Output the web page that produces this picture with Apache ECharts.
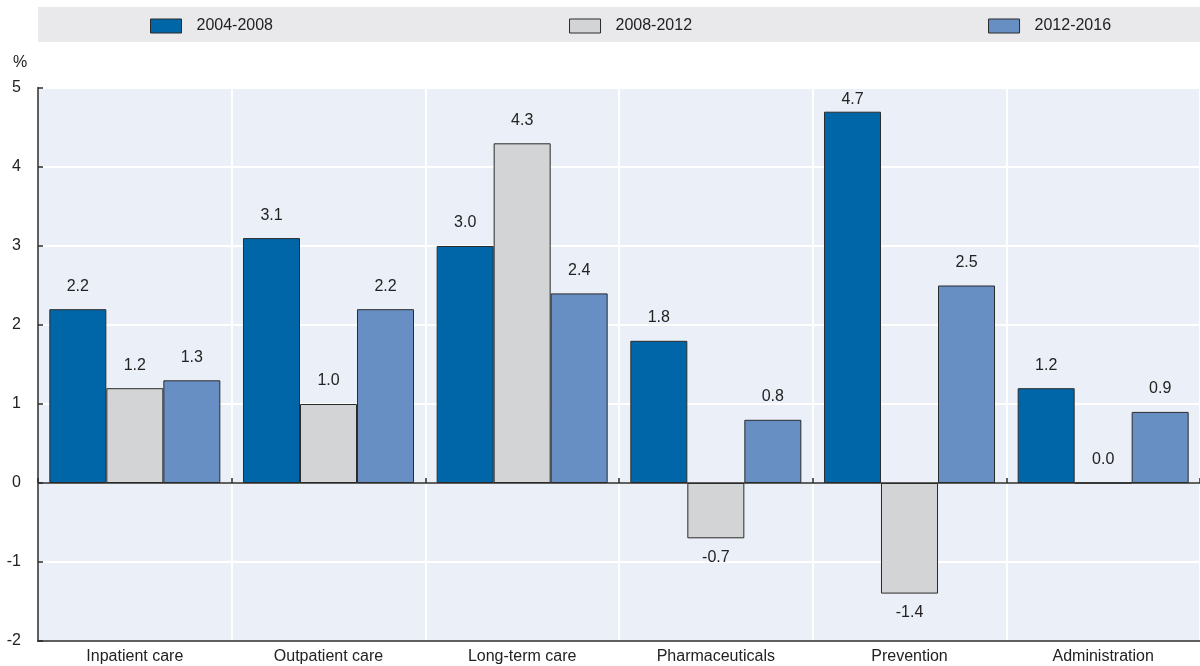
<!DOCTYPE html>
<html>
<head>
<meta charset="utf-8">
<script src="https://cdn.jsdelivr.net/npm/echarts@6/dist/echarts.min.js"></script>
<style>
  html, body { margin: 0; padding: 0; background: #ffffff; }
  #chart { width: 1200px; height: 666px; }
</style>
</head>
<body>
<div id="chart"></div>
<script>
// Average annual growth in health spending by function, per period (%)
const categories = ['Inpatient care', 'Outpatient care', 'Long-term care', 'Pharmaceuticals', 'Prevention', 'Administration'];
const periods = ['2004-2008', '2008-2012', '2012-2016'];
const growth2004_2008 = [2.2, 3.1, 3.0, 1.8, 4.7, 1.2];
const growth2008_2012 = [1.2, 1.0, 4.3, -0.7, -1.4, 0.0];
const growth2012_2016 = [1.3, 2.2, 2.4, 0.8, 2.5, 0.9];
const yTicks = [-2, -1, 0, 1, 2, 3, 4, 5];

const colors = ['#0066a8', '#d3d4d6', '#678fc4'];
const FONT = "'Liberation Sans', Arial, sans-serif";
const yMax = yTicks[yTicks.length - 1];

// Labels sit above positive bars and below negative ones;
// labels close to the top of the plot are pulled in so they stay inside
function withLabels(values) {
  return values.map(v => ({
    value: v,
    label: {
      position: v < 0 ? 'bottom' : 'top',
      distance: v < 0 ? 11 : (yMax - v < 0.5 ? 4 : 15)
    }
  }));
}

function makeSeries(name, values, idx) {
  const s = {
    name: name,
    type: 'bar',
    xAxisIndex: 0,
    barGap: '0%',
    barCategoryGap: '11.7%',
    data: withLabels(values),
    itemStyle: { color: colors[idx], borderColor: '#2b2b2b', borderWidth: 1 },
    label: {
      show: true,
      fontFamily: FONT,
      fontSize: 16,
      color: '#222',
      formatter: p => p.value.toFixed(1)
    }
  };
  if (idx === 0) {
    // Zero baseline across the plot
    s.markLine = {
      silent: true,
      symbol: 'none',
      label: { show: false },
      lineStyle: { color: '#2b2b2b', width: 1.5, type: 'solid' },
      data: [{ yAxis: 0 }],
      z: 10
    };
  }
  return s;
}

const chart = echarts.init(document.getElementById('chart'), null, { renderer: 'canvas' });

chart.setOption({
  animation: false,
  title: {
    text: '%',
    left: 13,
    top: 55,
    padding: 0,
    textStyle: { fontFamily: FONT, fontSize: 16, fontWeight: 'normal', color: '#222' }
  },
  graphic: [{
    type: 'rect',
    left: 38,
    top: 7,
    shape: { width: 1162, height: 35 },
    style: { fill: '#e9e9ec' },
    z: -1
  }],
  legend: {
    data: periods.map(p => ({ name: p, icon: 'rect' })),
    left: 150,
    top: 18,
    padding: 0,
    itemWidth: 31,
    itemHeight: 14,
    itemGap: 296,
    textStyle: { fontFamily: FONT, fontSize: 16, color: '#222', padding: [0, 0, 0, 10] },
    itemStyle: { borderColor: '#2b2b2b', borderWidth: 1 }
  },
  grid: {
    left: 38,
    right: 0,
    top: 88,
    bottom: 25,
    show: true,
    backgroundColor: '#ebeff7',
    borderColor: '#2b2b2b',
    borderWidth: 1.5
  },
  xAxis: [{
    type: 'category',
    data: categories,
    axisLine: { show: true, onZero: false, lineStyle: { color: '#2b2b2b', width: 1.5 } },
    axisTick: { show: false },
    axisLabel: { fontFamily: FONT, fontSize: 16, color: '#222', margin: 8 },
    splitLine: { show: true, lineStyle: { color: '#ffffff', width: 2 } }
  }, {
    // Short boundary ticks standing on the zero baseline
    type: 'category',
    position: 'top',
    z: 5,
    data: categories,
    axisLine: { show: false, onZero: true },
    axisTick: { show: true, inside: false, length: 5, lineStyle: { color: '#2b2b2b', width: 1.5 } },
    axisLabel: { show: false },
    splitLine: { show: false }
  }],
  yAxis: {
    type: 'value',
    min: yTicks[0],
    max: yMax,
    interval: 1,
    axisLine: { show: true, lineStyle: { color: '#2b2b2b', width: 1.5 } },
    axisTick: { show: true, inside: true, length: 5, lineStyle: { color: '#2b2b2b', width: 1.5 } },
    axisLabel: { fontFamily: FONT, fontSize: 16, color: '#222', margin: 17 },
    splitLine: { show: true, lineStyle: { color: '#ffffff', width: 2 } }
  },
  series: [
    makeSeries(periods[0], growth2004_2008, 0),
    makeSeries(periods[1], growth2008_2012, 1),
    makeSeries(periods[2], growth2012_2016, 2)
  ]
});
</script>
</body>
</html>
